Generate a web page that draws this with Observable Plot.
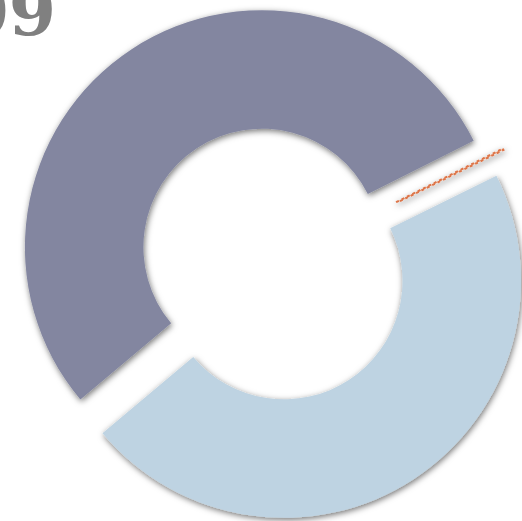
<!DOCTYPE html>
<html><head><meta charset="utf-8">
<script src="https://cdn.jsdelivr.net/npm/d3@7"></script>
<script src="https://cdn.jsdelivr.net/npm/@observablehq/plot@0.6"></script>
<style>
html,body{margin:0;padding:0;background:#fff;overflow:hidden}
#wrap{position:relative;width:522px;height:521px;overflow:hidden}
#title{position:absolute;left:-244px;width:300px;top:-23px;text-align:right;font:bold 68px/68px "DejaVu Serif";color:#808080;z-index:2;white-space:nowrap}
#chart{position:absolute;left:0;top:0}
</style></head><body>
<div id="wrap"><div id="title"></div><div id="chart"></div></div>
<script>
const title = "2009";
const categories = ["Segment A", "Segment B", "Segment C"];
const values = [53.7, 0.1, 46.2];
const colors = ["#8386a0", "#dc7448", "#bed3e2"];
const startAngleDeg = 230;
const innerRatio = 0.5;
const explode = 0.085;

document.getElementById("title").textContent = title;
const data = categories.map((c, i) => ({category: c, value: values[i], color: colors[i]}));

const donut = (index, scales, vals, dimensions) => {
  const sx = scales.x, sy = scales.y;
  const cx = sx ? sx(0) : dimensions.width / 2;
  const cy = sy ? sy(0) : dimensions.height / 2;
  const R = sx ? Math.abs(sx(1) - sx(0)) : Math.min(dimensions.width, dimensions.height) / 2;
  const a0 = startAngleDeg * Math.PI / 180;
  const pie = d3.pie().value(d => d.value).sort(null).startAngle(a0).endAngle(a0 + 2 * Math.PI);
  const arc = d3.arc().innerRadius(R * innerRatio).outerRadius(R);
  const g = d3.create("svg:g");
  const defs = g.append("defs");
  const f = defs.append("filter").attr("id", "shadow").attr("x", "-20%").attr("y", "-20%").attr("width", "140%").attr("height", "140%");
  f.append("feDropShadow").attr("dx", 1).attr("dy", 2).attr("stdDeviation", 3).attr("flood-color", "#000").attr("flood-opacity", 0.55);
  const arcs = pie(data);
  arcs.forEach((a, i) => {
    const mid = (a.startAngle + a.endAngle) / 2;
    const off = R * explode;
    const tx = cx + Math.sin(mid) * off, ty = cy - Math.cos(mid) * off;
    const p = g.append("path")
      .attr("d", arc(a))
      .attr("transform", `translate(${tx},${ty})`)
      .attr("fill", a.data.color)
      .attr("filter", "url(#shadow)");
    if (a.data.value < 1) {
      p.attr("fill", "#f3c4ae").attr("stroke", a.data.color).attr("stroke-width", 2).attr("stroke-dasharray", "3 3");
    }
    p.append("title").text(`${a.data.category}: ${a.data.value}%`);
  });
  return g.node();
};

const chart = Plot.plot({
  width: 522,
  height: 521,
  margin: 0,
  x: {domain: [-1, 1], range: [36, 510], axis: null},
  y: {domain: [-1, 1], range: [501, 27], axis: null},
  marks: [donut]
});
document.getElementById("chart").appendChild(chart);
</script>
</body></html>
